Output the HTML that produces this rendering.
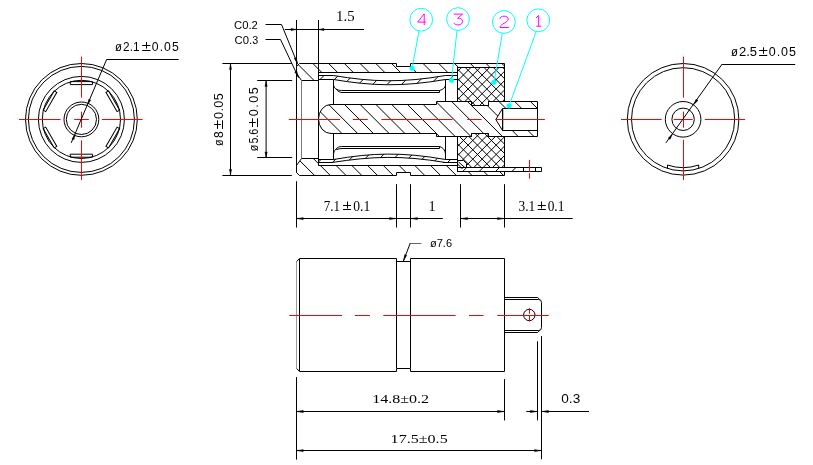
<!DOCTYPE html>
<html><head><meta charset="utf-8"><title>Drawing</title>
<style>html,body{margin:0;padding:0;background:#fff;}body{width:813px;height:465px;overflow:hidden;font-family:"Liberation Sans",sans-serif;}svg{will-change:transform;}svg text{white-space:pre;}</style>
</head><body>
<svg width="813" height="465" viewBox="0 0 813 465" style="display:block">
<circle cx="81.40" cy="119.40" r="55.90" stroke="#000" stroke-width="1" fill="none"/>
<circle cx="81.40" cy="119.40" r="53.00" stroke="#000" stroke-width="1" fill="none"/>
<circle cx="81.40" cy="119.40" r="43.00" stroke="#000" stroke-width="1" fill="none"/>
<circle cx="81.40" cy="119.40" r="39.10" stroke="#000" stroke-width="1" fill="none"/>
<circle cx="81.40" cy="119.40" r="17.40" stroke="#000" stroke-width="1" fill="none"/>
<circle cx="81.40" cy="119.40" r="15.10" stroke="#000" stroke-width="1" fill="none"/>
<path d="M70.30,81.60 L70.30,84.60 L92.50,84.60 L92.50,81.60 Z" fill="none" stroke="#000" stroke-width="1" transform="rotate(0 81.4 119.4)"/>
<path d="M70.30,81.60 L70.30,84.60 L92.50,84.60 L92.50,81.60 Z" fill="none" stroke="#000" stroke-width="1" transform="rotate(60 81.4 119.4)"/>
<path d="M70.30,81.60 L70.30,84.60 L92.50,84.60 L92.50,81.60 Z" fill="none" stroke="#000" stroke-width="1" transform="rotate(120 81.4 119.4)"/>
<path d="M70.30,81.60 L70.30,84.60 L92.50,84.60 L92.50,81.60 Z" fill="none" stroke="#000" stroke-width="1" transform="rotate(180 81.4 119.4)"/>
<path d="M70.30,81.60 L70.30,84.60 L92.50,84.60 L92.50,81.60 Z" fill="none" stroke="#000" stroke-width="1" transform="rotate(240 81.4 119.4)"/>
<path d="M70.30,81.60 L70.30,84.60 L92.50,84.60 L92.50,81.60 Z" fill="none" stroke="#000" stroke-width="1" transform="rotate(300 81.4 119.4)"/>
<line x1="19.00" y1="119.50" x2="60.60" y2="119.50" stroke="#ff0000" stroke-width="1" />
<line x1="74.20" y1="119.50" x2="88.90" y2="119.50" stroke="#ff0000" stroke-width="1" />
<line x1="101.90" y1="119.50" x2="142.50" y2="119.50" stroke="#ff0000" stroke-width="1" />
<line x1="81.50" y1="56.60" x2="81.50" y2="97.60" stroke="#ff0000" stroke-width="1" />
<line x1="81.50" y1="111.70" x2="81.50" y2="127.70" stroke="#ff0000" stroke-width="1" />
<line x1="81.50" y1="140.40" x2="81.50" y2="180.10" stroke="#ff0000" stroke-width="1" />
<line x1="106.70" y1="59.50" x2="178.70" y2="59.50" stroke="#000" stroke-width="1" />
<line x1="106.70" y1="59.30" x2="71.20" y2="142.90" stroke="#000" stroke-width="1" />
<path d="M87.64,104.67 L88.68,99.14 L90.89,100.07 Z" fill="#000" stroke="#000" stroke-width="0.3"/>
<path d="M75.16,134.13 L74.12,139.66 L71.91,138.73 Z" fill="#000" stroke="#000" stroke-width="0.3"/>
<text x="115.00" y="50.60" font-family="'Liberation Sans', sans-serif" font-size="12" font-weight="normal" fill="#000" text-anchor="start" textLength="6.90" lengthAdjust="spacingAndGlyphs">ø</text>
<text x="123.10" y="50.60" font-family="'Liberation Sans', sans-serif" font-size="12.2" font-weight="normal" fill="#000" text-anchor="start" textLength="16.40" lengthAdjust="spacingAndGlyphs">2.1</text>
<line x1="142.20" y1="45.50" x2="150.40" y2="45.50" stroke="#000" stroke-width="1.0" />
<line x1="146.50" y1="41.90" x2="146.50" y2="48.60" stroke="#000" stroke-width="1.0" />
<line x1="142.20" y1="50.50" x2="150.40" y2="50.50" stroke="#000" stroke-width="1.0" />
<text x="151.80" y="50.60" font-family="'Liberation Sans', sans-serif" font-size="12.2" font-weight="normal" fill="#000" text-anchor="start" textLength="26.90" lengthAdjust="spacing">0.05</text>
<circle cx="683.10" cy="119.30" r="55.80" stroke="#000" stroke-width="1" fill="none"/>
<circle cx="683.10" cy="119.30" r="51.60" stroke="#000" stroke-width="1" fill="none"/>
<circle cx="683.10" cy="119.30" r="17.80" stroke="#000" stroke-width="1" fill="none"/>
<circle cx="683.10" cy="119.30" r="11.20" stroke="#000" stroke-width="1" fill="none"/>
<path d="M667.50,168.49 L667.50,165.01 A48.3,48.3 0 0 0 698.70,165.01 L698.70,168.49" stroke="#000" stroke-width="1" fill="none" />
<line x1="621.00" y1="119.50" x2="661.70" y2="119.50" stroke="#ff0000" stroke-width="1" />
<line x1="673.70" y1="119.50" x2="692.70" y2="119.50" stroke="#ff0000" stroke-width="1" />
<line x1="704.80" y1="119.50" x2="745.10" y2="119.50" stroke="#ff0000" stroke-width="1" />
<line x1="683.50" y1="56.60" x2="683.50" y2="97.60" stroke="#ff0000" stroke-width="1" />
<line x1="683.50" y1="111.70" x2="683.50" y2="127.70" stroke="#ff0000" stroke-width="1" />
<line x1="683.50" y1="139.80" x2="683.50" y2="180.10" stroke="#ff0000" stroke-width="1" />
<line x1="722.20" y1="64.50" x2="795.20" y2="64.50" stroke="#000" stroke-width="1" />
<line x1="722.20" y1="64.00" x2="665.90" y2="142.90" stroke="#000" stroke-width="1" />
<path d="M693.61,104.68 L696.13,99.11 L698.08,100.51 Z" fill="#000" stroke="#000" stroke-width="0.3"/>
<path d="M672.59,133.92 L670.07,139.49 L668.12,138.09 Z" fill="#000" stroke="#000" stroke-width="0.3"/>
<text x="730.90" y="55.70" font-family="'Liberation Sans', sans-serif" font-size="12" font-weight="normal" fill="#000" text-anchor="start" textLength="6.90" lengthAdjust="spacingAndGlyphs">ø</text>
<text x="738.90" y="55.70" font-family="'Liberation Sans', sans-serif" font-size="12.5" font-weight="normal" fill="#000" text-anchor="start" textLength="18.10" lengthAdjust="spacingAndGlyphs">2.5</text>
<line x1="759.10" y1="50.50" x2="767.30" y2="50.50" stroke="#000" stroke-width="1.0" />
<line x1="763.50" y1="47.30" x2="763.50" y2="53.80" stroke="#000" stroke-width="1.0" />
<line x1="759.10" y1="55.50" x2="767.30" y2="55.50" stroke="#000" stroke-width="1.0" />
<text x="768.80" y="55.70" font-family="'Liberation Sans', sans-serif" font-size="12.5" font-weight="normal" fill="#000" text-anchor="start" textLength="27.10" lengthAdjust="spacing">0.05</text>
<defs><clipPath id="cst"><path d="M296.50,66.50 L299.50,63.50 L396.50,63.50 L396.50,66.50 L410.50,66.50 L410.50,63.50 L504.50,63.50 L504.50,67.50 L457.50,67.50 L457.50,72.50 L318.50,72.50 L318.50,80.50 L301.50,80.50 L296.50,73.50 Z"/></clipPath><clipPath id="csb"><path d="M296.50,172.50 L299.50,175.50 L396.50,175.50 L396.50,172.50 L410.50,172.50 L410.50,175.50 L504.50,175.50 L504.50,171.50 L457.50,171.50 L457.50,165.50 L318.50,165.50 L318.50,158.50 L301.50,158.50 L296.50,165.50 Z"/></clipPath><clipPath id="cpin"><path clip-rule="evenodd" d="M331.0,104.5 L436.5,104.5 L436.5,101.5 L471.5,101.5 L471.5,105.5 L488.5,105.5 L488.5,101.5 L537.5,101.5 L537.5,136.5 L488.5,136.5 L488.5,133.5 L471.5,133.5 L471.5,136.5 L436.5,136.5 L436.5,133.5 L331.0,133.5 A12.5,14.50 0 0 1 331.0,104.5 Z M537.5,108.5 L502.5,108.5 L495.8,119.5 L502.5,130.5 L537.5,130.5 Z"/></clipPath><clipPath id="cxt"><path d="M457.50,67.50 L504.50,67.50 L504.50,101.50 L488.50,101.50 L488.50,105.50 L471.50,105.50 L471.50,101.50 L457.50,101.50 Z"/></clipPath><clipPath id="cxb"><path d="M457.50,136.50 L471.50,136.50 L471.50,133.50 L488.50,133.50 L488.50,136.50 L504.50,136.50 L504.50,167.50 L466.50,167.50 L466.50,163.50 L463.50,160.50 L457.50,160.50 Z"/></clipPath><clipPath id="cspt"><path d="M318.5,75.5 L333.5,75.5 C372,82 402,83 445.5,75.5 L457.5,75.5 L457.5,79.5 L445.5,79.5 C402,87 372,86 333.5,79.5 L318.5,79.5 Z"/></clipPath><clipPath id="cspb"><path d="M318.5,162.5 L332.0,162.5 C372,156.2 402,155.2 445.5,162.5 L457.5,162.5 L457.5,159.5 L445.5,159.5 C402,151.8 372,152.8 333.5,159.5 L318.5,159.5 Z"/></clipPath><clipPath id="clug"><path d="M457.50,167.50 L523.50,167.50 L523.50,171.50 L457.50,171.50 Z"/></clipPath></defs>
<g clip-path="url(#cst)">
<line x1="115.35" y1="55.00" x2="245.35" y2="185.00" stroke="#000" stroke-width="1" />
<line x1="131.10" y1="55.00" x2="261.10" y2="185.00" stroke="#000" stroke-width="1" />
<line x1="146.85" y1="55.00" x2="276.85" y2="185.00" stroke="#000" stroke-width="1" />
<line x1="162.60" y1="55.00" x2="292.60" y2="185.00" stroke="#000" stroke-width="1" />
<line x1="178.35" y1="55.00" x2="308.35" y2="185.00" stroke="#000" stroke-width="1" />
<line x1="194.10" y1="55.00" x2="324.10" y2="185.00" stroke="#000" stroke-width="1" />
<line x1="209.85" y1="55.00" x2="339.85" y2="185.00" stroke="#000" stroke-width="1" />
<line x1="225.60" y1="55.00" x2="355.60" y2="185.00" stroke="#000" stroke-width="1" />
<line x1="241.35" y1="55.00" x2="371.35" y2="185.00" stroke="#000" stroke-width="1" />
<line x1="257.10" y1="55.00" x2="387.10" y2="185.00" stroke="#000" stroke-width="1" />
<line x1="272.85" y1="55.00" x2="402.85" y2="185.00" stroke="#000" stroke-width="1" />
<line x1="288.60" y1="55.00" x2="418.60" y2="185.00" stroke="#000" stroke-width="1" />
<line x1="304.35" y1="55.00" x2="434.35" y2="185.00" stroke="#000" stroke-width="1" />
<line x1="320.10" y1="55.00" x2="450.10" y2="185.00" stroke="#000" stroke-width="1" />
<line x1="335.85" y1="55.00" x2="465.85" y2="185.00" stroke="#000" stroke-width="1" />
<line x1="351.60" y1="55.00" x2="481.60" y2="185.00" stroke="#000" stroke-width="1" />
<line x1="367.35" y1="55.00" x2="497.35" y2="185.00" stroke="#000" stroke-width="1" />
<line x1="383.10" y1="55.00" x2="513.10" y2="185.00" stroke="#000" stroke-width="1" />
<line x1="398.85" y1="55.00" x2="528.85" y2="185.00" stroke="#000" stroke-width="1" />
<line x1="414.60" y1="55.00" x2="544.60" y2="185.00" stroke="#000" stroke-width="1" />
<line x1="430.35" y1="55.00" x2="560.35" y2="185.00" stroke="#000" stroke-width="1" />
<line x1="446.10" y1="55.00" x2="576.10" y2="185.00" stroke="#000" stroke-width="1" />
<line x1="461.85" y1="55.00" x2="591.85" y2="185.00" stroke="#000" stroke-width="1" />
<line x1="477.60" y1="55.00" x2="607.60" y2="185.00" stroke="#000" stroke-width="1" />
<line x1="493.35" y1="55.00" x2="623.35" y2="185.00" stroke="#000" stroke-width="1" />
<line x1="509.10" y1="55.00" x2="639.10" y2="185.00" stroke="#000" stroke-width="1" />
<line x1="524.85" y1="55.00" x2="654.85" y2="185.00" stroke="#000" stroke-width="1" />
<line x1="540.60" y1="55.00" x2="670.60" y2="185.00" stroke="#000" stroke-width="1" />
<line x1="556.35" y1="55.00" x2="686.35" y2="185.00" stroke="#000" stroke-width="1" />
<line x1="572.10" y1="55.00" x2="702.10" y2="185.00" stroke="#000" stroke-width="1" />
<line x1="587.85" y1="55.00" x2="717.85" y2="185.00" stroke="#000" stroke-width="1" />
</g>
<g clip-path="url(#csb)">
<line x1="115.35" y1="55.00" x2="245.35" y2="185.00" stroke="#000" stroke-width="1" />
<line x1="131.10" y1="55.00" x2="261.10" y2="185.00" stroke="#000" stroke-width="1" />
<line x1="146.85" y1="55.00" x2="276.85" y2="185.00" stroke="#000" stroke-width="1" />
<line x1="162.60" y1="55.00" x2="292.60" y2="185.00" stroke="#000" stroke-width="1" />
<line x1="178.35" y1="55.00" x2="308.35" y2="185.00" stroke="#000" stroke-width="1" />
<line x1="194.10" y1="55.00" x2="324.10" y2="185.00" stroke="#000" stroke-width="1" />
<line x1="209.85" y1="55.00" x2="339.85" y2="185.00" stroke="#000" stroke-width="1" />
<line x1="225.60" y1="55.00" x2="355.60" y2="185.00" stroke="#000" stroke-width="1" />
<line x1="241.35" y1="55.00" x2="371.35" y2="185.00" stroke="#000" stroke-width="1" />
<line x1="257.10" y1="55.00" x2="387.10" y2="185.00" stroke="#000" stroke-width="1" />
<line x1="272.85" y1="55.00" x2="402.85" y2="185.00" stroke="#000" stroke-width="1" />
<line x1="288.60" y1="55.00" x2="418.60" y2="185.00" stroke="#000" stroke-width="1" />
<line x1="304.35" y1="55.00" x2="434.35" y2="185.00" stroke="#000" stroke-width="1" />
<line x1="320.10" y1="55.00" x2="450.10" y2="185.00" stroke="#000" stroke-width="1" />
<line x1="335.85" y1="55.00" x2="465.85" y2="185.00" stroke="#000" stroke-width="1" />
<line x1="351.60" y1="55.00" x2="481.60" y2="185.00" stroke="#000" stroke-width="1" />
<line x1="367.35" y1="55.00" x2="497.35" y2="185.00" stroke="#000" stroke-width="1" />
<line x1="383.10" y1="55.00" x2="513.10" y2="185.00" stroke="#000" stroke-width="1" />
<line x1="398.85" y1="55.00" x2="528.85" y2="185.00" stroke="#000" stroke-width="1" />
<line x1="414.60" y1="55.00" x2="544.60" y2="185.00" stroke="#000" stroke-width="1" />
<line x1="430.35" y1="55.00" x2="560.35" y2="185.00" stroke="#000" stroke-width="1" />
<line x1="446.10" y1="55.00" x2="576.10" y2="185.00" stroke="#000" stroke-width="1" />
<line x1="461.85" y1="55.00" x2="591.85" y2="185.00" stroke="#000" stroke-width="1" />
<line x1="477.60" y1="55.00" x2="607.60" y2="185.00" stroke="#000" stroke-width="1" />
<line x1="493.35" y1="55.00" x2="623.35" y2="185.00" stroke="#000" stroke-width="1" />
<line x1="509.10" y1="55.00" x2="639.10" y2="185.00" stroke="#000" stroke-width="1" />
<line x1="524.85" y1="55.00" x2="654.85" y2="185.00" stroke="#000" stroke-width="1" />
<line x1="540.60" y1="55.00" x2="670.60" y2="185.00" stroke="#000" stroke-width="1" />
<line x1="556.35" y1="55.00" x2="686.35" y2="185.00" stroke="#000" stroke-width="1" />
<line x1="572.10" y1="55.00" x2="702.10" y2="185.00" stroke="#000" stroke-width="1" />
<line x1="587.85" y1="55.00" x2="717.85" y2="185.00" stroke="#000" stroke-width="1" />
</g>
<g clip-path="url(#cpin)">
<line x1="105.95" y1="55.00" x2="235.95" y2="185.00" stroke="#000" stroke-width="1" />
<line x1="121.70" y1="55.00" x2="251.70" y2="185.00" stroke="#000" stroke-width="1" />
<line x1="137.45" y1="55.00" x2="267.45" y2="185.00" stroke="#000" stroke-width="1" />
<line x1="153.20" y1="55.00" x2="283.20" y2="185.00" stroke="#000" stroke-width="1" />
<line x1="168.95" y1="55.00" x2="298.95" y2="185.00" stroke="#000" stroke-width="1" />
<line x1="184.70" y1="55.00" x2="314.70" y2="185.00" stroke="#000" stroke-width="1" />
<line x1="200.45" y1="55.00" x2="330.45" y2="185.00" stroke="#000" stroke-width="1" />
<line x1="216.20" y1="55.00" x2="346.20" y2="185.00" stroke="#000" stroke-width="1" />
<line x1="231.95" y1="55.00" x2="361.95" y2="185.00" stroke="#000" stroke-width="1" />
<line x1="247.70" y1="55.00" x2="377.70" y2="185.00" stroke="#000" stroke-width="1" />
<line x1="263.45" y1="55.00" x2="393.45" y2="185.00" stroke="#000" stroke-width="1" />
<line x1="279.20" y1="55.00" x2="409.20" y2="185.00" stroke="#000" stroke-width="1" />
<line x1="294.95" y1="55.00" x2="424.95" y2="185.00" stroke="#000" stroke-width="1" />
<line x1="310.70" y1="55.00" x2="440.70" y2="185.00" stroke="#000" stroke-width="1" />
<line x1="326.45" y1="55.00" x2="456.45" y2="185.00" stroke="#000" stroke-width="1" />
<line x1="342.20" y1="55.00" x2="472.20" y2="185.00" stroke="#000" stroke-width="1" />
<line x1="357.95" y1="55.00" x2="487.95" y2="185.00" stroke="#000" stroke-width="1" />
<line x1="373.70" y1="55.00" x2="503.70" y2="185.00" stroke="#000" stroke-width="1" />
<line x1="389.45" y1="55.00" x2="519.45" y2="185.00" stroke="#000" stroke-width="1" />
<line x1="405.20" y1="55.00" x2="535.20" y2="185.00" stroke="#000" stroke-width="1" />
<line x1="420.95" y1="55.00" x2="550.95" y2="185.00" stroke="#000" stroke-width="1" />
<line x1="436.70" y1="55.00" x2="566.70" y2="185.00" stroke="#000" stroke-width="1" />
<line x1="452.45" y1="55.00" x2="582.45" y2="185.00" stroke="#000" stroke-width="1" />
<line x1="468.20" y1="55.00" x2="598.20" y2="185.00" stroke="#000" stroke-width="1" />
<line x1="483.95" y1="55.00" x2="613.95" y2="185.00" stroke="#000" stroke-width="1" />
<line x1="499.70" y1="55.00" x2="629.70" y2="185.00" stroke="#000" stroke-width="1" />
<line x1="515.45" y1="55.00" x2="645.45" y2="185.00" stroke="#000" stroke-width="1" />
<line x1="531.20" y1="55.00" x2="661.20" y2="185.00" stroke="#000" stroke-width="1" />
<line x1="546.95" y1="55.00" x2="676.95" y2="185.00" stroke="#000" stroke-width="1" />
<line x1="562.70" y1="55.00" x2="692.70" y2="185.00" stroke="#000" stroke-width="1" />
<line x1="578.45" y1="55.00" x2="708.45" y2="185.00" stroke="#000" stroke-width="1" />
<line x1="594.20" y1="55.00" x2="724.20" y2="185.00" stroke="#000" stroke-width="1" />
</g>
<g clip-path="url(#cxt)">
<line x1="116.20" y1="55.00" x2="246.20" y2="185.00" stroke="#000" stroke-width="1" />
<line x1="125.55" y1="55.00" x2="255.55" y2="185.00" stroke="#000" stroke-width="1" />
<line x1="134.90" y1="55.00" x2="264.90" y2="185.00" stroke="#000" stroke-width="1" />
<line x1="144.25" y1="55.00" x2="274.25" y2="185.00" stroke="#000" stroke-width="1" />
<line x1="153.60" y1="55.00" x2="283.60" y2="185.00" stroke="#000" stroke-width="1" />
<line x1="162.95" y1="55.00" x2="292.95" y2="185.00" stroke="#000" stroke-width="1" />
<line x1="172.30" y1="55.00" x2="302.30" y2="185.00" stroke="#000" stroke-width="1" />
<line x1="181.65" y1="55.00" x2="311.65" y2="185.00" stroke="#000" stroke-width="1" />
<line x1="191.00" y1="55.00" x2="321.00" y2="185.00" stroke="#000" stroke-width="1" />
<line x1="200.35" y1="55.00" x2="330.35" y2="185.00" stroke="#000" stroke-width="1" />
<line x1="209.70" y1="55.00" x2="339.70" y2="185.00" stroke="#000" stroke-width="1" />
<line x1="219.05" y1="55.00" x2="349.05" y2="185.00" stroke="#000" stroke-width="1" />
<line x1="228.40" y1="55.00" x2="358.40" y2="185.00" stroke="#000" stroke-width="1" />
<line x1="237.75" y1="55.00" x2="367.75" y2="185.00" stroke="#000" stroke-width="1" />
<line x1="247.10" y1="55.00" x2="377.10" y2="185.00" stroke="#000" stroke-width="1" />
<line x1="256.45" y1="55.00" x2="386.45" y2="185.00" stroke="#000" stroke-width="1" />
<line x1="265.80" y1="55.00" x2="395.80" y2="185.00" stroke="#000" stroke-width="1" />
<line x1="275.15" y1="55.00" x2="405.15" y2="185.00" stroke="#000" stroke-width="1" />
<line x1="284.50" y1="55.00" x2="414.50" y2="185.00" stroke="#000" stroke-width="1" />
<line x1="293.85" y1="55.00" x2="423.85" y2="185.00" stroke="#000" stroke-width="1" />
<line x1="303.20" y1="55.00" x2="433.20" y2="185.00" stroke="#000" stroke-width="1" />
<line x1="312.55" y1="55.00" x2="442.55" y2="185.00" stroke="#000" stroke-width="1" />
<line x1="321.90" y1="55.00" x2="451.90" y2="185.00" stroke="#000" stroke-width="1" />
<line x1="331.25" y1="55.00" x2="461.25" y2="185.00" stroke="#000" stroke-width="1" />
<line x1="340.60" y1="55.00" x2="470.60" y2="185.00" stroke="#000" stroke-width="1" />
<line x1="349.95" y1="55.00" x2="479.95" y2="185.00" stroke="#000" stroke-width="1" />
<line x1="359.30" y1="55.00" x2="489.30" y2="185.00" stroke="#000" stroke-width="1" />
<line x1="368.65" y1="55.00" x2="498.65" y2="185.00" stroke="#000" stroke-width="1" />
<line x1="378.00" y1="55.00" x2="508.00" y2="185.00" stroke="#000" stroke-width="1" />
<line x1="387.35" y1="55.00" x2="517.35" y2="185.00" stroke="#000" stroke-width="1" />
<line x1="396.70" y1="55.00" x2="526.70" y2="185.00" stroke="#000" stroke-width="1" />
<line x1="406.05" y1="55.00" x2="536.05" y2="185.00" stroke="#000" stroke-width="1" />
<line x1="415.40" y1="55.00" x2="545.40" y2="185.00" stroke="#000" stroke-width="1" />
<line x1="424.75" y1="55.00" x2="554.75" y2="185.00" stroke="#000" stroke-width="1" />
<line x1="434.10" y1="55.00" x2="564.10" y2="185.00" stroke="#000" stroke-width="1" />
<line x1="443.45" y1="55.00" x2="573.45" y2="185.00" stroke="#000" stroke-width="1" />
<line x1="452.80" y1="55.00" x2="582.80" y2="185.00" stroke="#000" stroke-width="1" />
<line x1="462.15" y1="55.00" x2="592.15" y2="185.00" stroke="#000" stroke-width="1" />
<line x1="471.50" y1="55.00" x2="601.50" y2="185.00" stroke="#000" stroke-width="1" />
<line x1="480.85" y1="55.00" x2="610.85" y2="185.00" stroke="#000" stroke-width="1" />
<line x1="490.20" y1="55.00" x2="620.20" y2="185.00" stroke="#000" stroke-width="1" />
<line x1="499.55" y1="55.00" x2="629.55" y2="185.00" stroke="#000" stroke-width="1" />
<line x1="508.90" y1="55.00" x2="638.90" y2="185.00" stroke="#000" stroke-width="1" />
<line x1="518.25" y1="55.00" x2="648.25" y2="185.00" stroke="#000" stroke-width="1" />
<line x1="527.60" y1="55.00" x2="657.60" y2="185.00" stroke="#000" stroke-width="1" />
<line x1="536.95" y1="55.00" x2="666.95" y2="185.00" stroke="#000" stroke-width="1" />
<line x1="546.30" y1="55.00" x2="676.30" y2="185.00" stroke="#000" stroke-width="1" />
<line x1="555.65" y1="55.00" x2="685.65" y2="185.00" stroke="#000" stroke-width="1" />
<line x1="565.00" y1="55.00" x2="695.00" y2="185.00" stroke="#000" stroke-width="1" />
<line x1="574.35" y1="55.00" x2="704.35" y2="185.00" stroke="#000" stroke-width="1" />
<line x1="583.70" y1="55.00" x2="713.70" y2="185.00" stroke="#000" stroke-width="1" />
<line x1="593.05" y1="55.00" x2="723.05" y2="185.00" stroke="#000" stroke-width="1" />
</g>
<g clip-path="url(#cxt)">
<line x1="249.65" y1="55.00" x2="119.65" y2="185.00" stroke="#000" stroke-width="1" />
<line x1="259.00" y1="55.00" x2="129.00" y2="185.00" stroke="#000" stroke-width="1" />
<line x1="268.35" y1="55.00" x2="138.35" y2="185.00" stroke="#000" stroke-width="1" />
<line x1="277.70" y1="55.00" x2="147.70" y2="185.00" stroke="#000" stroke-width="1" />
<line x1="287.05" y1="55.00" x2="157.05" y2="185.00" stroke="#000" stroke-width="1" />
<line x1="296.40" y1="55.00" x2="166.40" y2="185.00" stroke="#000" stroke-width="1" />
<line x1="305.75" y1="55.00" x2="175.75" y2="185.00" stroke="#000" stroke-width="1" />
<line x1="315.10" y1="55.00" x2="185.10" y2="185.00" stroke="#000" stroke-width="1" />
<line x1="324.45" y1="55.00" x2="194.45" y2="185.00" stroke="#000" stroke-width="1" />
<line x1="333.80" y1="55.00" x2="203.80" y2="185.00" stroke="#000" stroke-width="1" />
<line x1="343.15" y1="55.00" x2="213.15" y2="185.00" stroke="#000" stroke-width="1" />
<line x1="352.50" y1="55.00" x2="222.50" y2="185.00" stroke="#000" stroke-width="1" />
<line x1="361.85" y1="55.00" x2="231.85" y2="185.00" stroke="#000" stroke-width="1" />
<line x1="371.20" y1="55.00" x2="241.20" y2="185.00" stroke="#000" stroke-width="1" />
<line x1="380.55" y1="55.00" x2="250.55" y2="185.00" stroke="#000" stroke-width="1" />
<line x1="389.90" y1="55.00" x2="259.90" y2="185.00" stroke="#000" stroke-width="1" />
<line x1="399.25" y1="55.00" x2="269.25" y2="185.00" stroke="#000" stroke-width="1" />
<line x1="408.60" y1="55.00" x2="278.60" y2="185.00" stroke="#000" stroke-width="1" />
<line x1="417.95" y1="55.00" x2="287.95" y2="185.00" stroke="#000" stroke-width="1" />
<line x1="427.30" y1="55.00" x2="297.30" y2="185.00" stroke="#000" stroke-width="1" />
<line x1="436.65" y1="55.00" x2="306.65" y2="185.00" stroke="#000" stroke-width="1" />
<line x1="446.00" y1="55.00" x2="316.00" y2="185.00" stroke="#000" stroke-width="1" />
<line x1="455.35" y1="55.00" x2="325.35" y2="185.00" stroke="#000" stroke-width="1" />
<line x1="464.70" y1="55.00" x2="334.70" y2="185.00" stroke="#000" stroke-width="1" />
<line x1="474.05" y1="55.00" x2="344.05" y2="185.00" stroke="#000" stroke-width="1" />
<line x1="483.40" y1="55.00" x2="353.40" y2="185.00" stroke="#000" stroke-width="1" />
<line x1="492.75" y1="55.00" x2="362.75" y2="185.00" stroke="#000" stroke-width="1" />
<line x1="502.10" y1="55.00" x2="372.10" y2="185.00" stroke="#000" stroke-width="1" />
<line x1="511.45" y1="55.00" x2="381.45" y2="185.00" stroke="#000" stroke-width="1" />
<line x1="520.80" y1="55.00" x2="390.80" y2="185.00" stroke="#000" stroke-width="1" />
<line x1="530.15" y1="55.00" x2="400.15" y2="185.00" stroke="#000" stroke-width="1" />
<line x1="539.50" y1="55.00" x2="409.50" y2="185.00" stroke="#000" stroke-width="1" />
<line x1="548.85" y1="55.00" x2="418.85" y2="185.00" stroke="#000" stroke-width="1" />
<line x1="558.20" y1="55.00" x2="428.20" y2="185.00" stroke="#000" stroke-width="1" />
<line x1="567.55" y1="55.00" x2="437.55" y2="185.00" stroke="#000" stroke-width="1" />
<line x1="576.90" y1="55.00" x2="446.90" y2="185.00" stroke="#000" stroke-width="1" />
<line x1="586.25" y1="55.00" x2="456.25" y2="185.00" stroke="#000" stroke-width="1" />
<line x1="595.60" y1="55.00" x2="465.60" y2="185.00" stroke="#000" stroke-width="1" />
<line x1="604.95" y1="55.00" x2="474.95" y2="185.00" stroke="#000" stroke-width="1" />
<line x1="614.30" y1="55.00" x2="484.30" y2="185.00" stroke="#000" stroke-width="1" />
<line x1="623.65" y1="55.00" x2="493.65" y2="185.00" stroke="#000" stroke-width="1" />
<line x1="633.00" y1="55.00" x2="503.00" y2="185.00" stroke="#000" stroke-width="1" />
<line x1="642.35" y1="55.00" x2="512.35" y2="185.00" stroke="#000" stroke-width="1" />
<line x1="651.70" y1="55.00" x2="521.70" y2="185.00" stroke="#000" stroke-width="1" />
<line x1="661.05" y1="55.00" x2="531.05" y2="185.00" stroke="#000" stroke-width="1" />
<line x1="670.40" y1="55.00" x2="540.40" y2="185.00" stroke="#000" stroke-width="1" />
<line x1="679.75" y1="55.00" x2="549.75" y2="185.00" stroke="#000" stroke-width="1" />
<line x1="689.10" y1="55.00" x2="559.10" y2="185.00" stroke="#000" stroke-width="1" />
<line x1="698.45" y1="55.00" x2="568.45" y2="185.00" stroke="#000" stroke-width="1" />
<line x1="707.80" y1="55.00" x2="577.80" y2="185.00" stroke="#000" stroke-width="1" />
<line x1="717.15" y1="55.00" x2="587.15" y2="185.00" stroke="#000" stroke-width="1" />
<line x1="726.50" y1="55.00" x2="596.50" y2="185.00" stroke="#000" stroke-width="1" />
</g>
<g clip-path="url(#cxb)">
<line x1="116.20" y1="55.00" x2="246.20" y2="185.00" stroke="#000" stroke-width="1" />
<line x1="125.55" y1="55.00" x2="255.55" y2="185.00" stroke="#000" stroke-width="1" />
<line x1="134.90" y1="55.00" x2="264.90" y2="185.00" stroke="#000" stroke-width="1" />
<line x1="144.25" y1="55.00" x2="274.25" y2="185.00" stroke="#000" stroke-width="1" />
<line x1="153.60" y1="55.00" x2="283.60" y2="185.00" stroke="#000" stroke-width="1" />
<line x1="162.95" y1="55.00" x2="292.95" y2="185.00" stroke="#000" stroke-width="1" />
<line x1="172.30" y1="55.00" x2="302.30" y2="185.00" stroke="#000" stroke-width="1" />
<line x1="181.65" y1="55.00" x2="311.65" y2="185.00" stroke="#000" stroke-width="1" />
<line x1="191.00" y1="55.00" x2="321.00" y2="185.00" stroke="#000" stroke-width="1" />
<line x1="200.35" y1="55.00" x2="330.35" y2="185.00" stroke="#000" stroke-width="1" />
<line x1="209.70" y1="55.00" x2="339.70" y2="185.00" stroke="#000" stroke-width="1" />
<line x1="219.05" y1="55.00" x2="349.05" y2="185.00" stroke="#000" stroke-width="1" />
<line x1="228.40" y1="55.00" x2="358.40" y2="185.00" stroke="#000" stroke-width="1" />
<line x1="237.75" y1="55.00" x2="367.75" y2="185.00" stroke="#000" stroke-width="1" />
<line x1="247.10" y1="55.00" x2="377.10" y2="185.00" stroke="#000" stroke-width="1" />
<line x1="256.45" y1="55.00" x2="386.45" y2="185.00" stroke="#000" stroke-width="1" />
<line x1="265.80" y1="55.00" x2="395.80" y2="185.00" stroke="#000" stroke-width="1" />
<line x1="275.15" y1="55.00" x2="405.15" y2="185.00" stroke="#000" stroke-width="1" />
<line x1="284.50" y1="55.00" x2="414.50" y2="185.00" stroke="#000" stroke-width="1" />
<line x1="293.85" y1="55.00" x2="423.85" y2="185.00" stroke="#000" stroke-width="1" />
<line x1="303.20" y1="55.00" x2="433.20" y2="185.00" stroke="#000" stroke-width="1" />
<line x1="312.55" y1="55.00" x2="442.55" y2="185.00" stroke="#000" stroke-width="1" />
<line x1="321.90" y1="55.00" x2="451.90" y2="185.00" stroke="#000" stroke-width="1" />
<line x1="331.25" y1="55.00" x2="461.25" y2="185.00" stroke="#000" stroke-width="1" />
<line x1="340.60" y1="55.00" x2="470.60" y2="185.00" stroke="#000" stroke-width="1" />
<line x1="349.95" y1="55.00" x2="479.95" y2="185.00" stroke="#000" stroke-width="1" />
<line x1="359.30" y1="55.00" x2="489.30" y2="185.00" stroke="#000" stroke-width="1" />
<line x1="368.65" y1="55.00" x2="498.65" y2="185.00" stroke="#000" stroke-width="1" />
<line x1="378.00" y1="55.00" x2="508.00" y2="185.00" stroke="#000" stroke-width="1" />
<line x1="387.35" y1="55.00" x2="517.35" y2="185.00" stroke="#000" stroke-width="1" />
<line x1="396.70" y1="55.00" x2="526.70" y2="185.00" stroke="#000" stroke-width="1" />
<line x1="406.05" y1="55.00" x2="536.05" y2="185.00" stroke="#000" stroke-width="1" />
<line x1="415.40" y1="55.00" x2="545.40" y2="185.00" stroke="#000" stroke-width="1" />
<line x1="424.75" y1="55.00" x2="554.75" y2="185.00" stroke="#000" stroke-width="1" />
<line x1="434.10" y1="55.00" x2="564.10" y2="185.00" stroke="#000" stroke-width="1" />
<line x1="443.45" y1="55.00" x2="573.45" y2="185.00" stroke="#000" stroke-width="1" />
<line x1="452.80" y1="55.00" x2="582.80" y2="185.00" stroke="#000" stroke-width="1" />
<line x1="462.15" y1="55.00" x2="592.15" y2="185.00" stroke="#000" stroke-width="1" />
<line x1="471.50" y1="55.00" x2="601.50" y2="185.00" stroke="#000" stroke-width="1" />
<line x1="480.85" y1="55.00" x2="610.85" y2="185.00" stroke="#000" stroke-width="1" />
<line x1="490.20" y1="55.00" x2="620.20" y2="185.00" stroke="#000" stroke-width="1" />
<line x1="499.55" y1="55.00" x2="629.55" y2="185.00" stroke="#000" stroke-width="1" />
<line x1="508.90" y1="55.00" x2="638.90" y2="185.00" stroke="#000" stroke-width="1" />
<line x1="518.25" y1="55.00" x2="648.25" y2="185.00" stroke="#000" stroke-width="1" />
<line x1="527.60" y1="55.00" x2="657.60" y2="185.00" stroke="#000" stroke-width="1" />
<line x1="536.95" y1="55.00" x2="666.95" y2="185.00" stroke="#000" stroke-width="1" />
<line x1="546.30" y1="55.00" x2="676.30" y2="185.00" stroke="#000" stroke-width="1" />
<line x1="555.65" y1="55.00" x2="685.65" y2="185.00" stroke="#000" stroke-width="1" />
<line x1="565.00" y1="55.00" x2="695.00" y2="185.00" stroke="#000" stroke-width="1" />
<line x1="574.35" y1="55.00" x2="704.35" y2="185.00" stroke="#000" stroke-width="1" />
<line x1="583.70" y1="55.00" x2="713.70" y2="185.00" stroke="#000" stroke-width="1" />
<line x1="593.05" y1="55.00" x2="723.05" y2="185.00" stroke="#000" stroke-width="1" />
</g>
<g clip-path="url(#cxb)">
<line x1="249.65" y1="55.00" x2="119.65" y2="185.00" stroke="#000" stroke-width="1" />
<line x1="259.00" y1="55.00" x2="129.00" y2="185.00" stroke="#000" stroke-width="1" />
<line x1="268.35" y1="55.00" x2="138.35" y2="185.00" stroke="#000" stroke-width="1" />
<line x1="277.70" y1="55.00" x2="147.70" y2="185.00" stroke="#000" stroke-width="1" />
<line x1="287.05" y1="55.00" x2="157.05" y2="185.00" stroke="#000" stroke-width="1" />
<line x1="296.40" y1="55.00" x2="166.40" y2="185.00" stroke="#000" stroke-width="1" />
<line x1="305.75" y1="55.00" x2="175.75" y2="185.00" stroke="#000" stroke-width="1" />
<line x1="315.10" y1="55.00" x2="185.10" y2="185.00" stroke="#000" stroke-width="1" />
<line x1="324.45" y1="55.00" x2="194.45" y2="185.00" stroke="#000" stroke-width="1" />
<line x1="333.80" y1="55.00" x2="203.80" y2="185.00" stroke="#000" stroke-width="1" />
<line x1="343.15" y1="55.00" x2="213.15" y2="185.00" stroke="#000" stroke-width="1" />
<line x1="352.50" y1="55.00" x2="222.50" y2="185.00" stroke="#000" stroke-width="1" />
<line x1="361.85" y1="55.00" x2="231.85" y2="185.00" stroke="#000" stroke-width="1" />
<line x1="371.20" y1="55.00" x2="241.20" y2="185.00" stroke="#000" stroke-width="1" />
<line x1="380.55" y1="55.00" x2="250.55" y2="185.00" stroke="#000" stroke-width="1" />
<line x1="389.90" y1="55.00" x2="259.90" y2="185.00" stroke="#000" stroke-width="1" />
<line x1="399.25" y1="55.00" x2="269.25" y2="185.00" stroke="#000" stroke-width="1" />
<line x1="408.60" y1="55.00" x2="278.60" y2="185.00" stroke="#000" stroke-width="1" />
<line x1="417.95" y1="55.00" x2="287.95" y2="185.00" stroke="#000" stroke-width="1" />
<line x1="427.30" y1="55.00" x2="297.30" y2="185.00" stroke="#000" stroke-width="1" />
<line x1="436.65" y1="55.00" x2="306.65" y2="185.00" stroke="#000" stroke-width="1" />
<line x1="446.00" y1="55.00" x2="316.00" y2="185.00" stroke="#000" stroke-width="1" />
<line x1="455.35" y1="55.00" x2="325.35" y2="185.00" stroke="#000" stroke-width="1" />
<line x1="464.70" y1="55.00" x2="334.70" y2="185.00" stroke="#000" stroke-width="1" />
<line x1="474.05" y1="55.00" x2="344.05" y2="185.00" stroke="#000" stroke-width="1" />
<line x1="483.40" y1="55.00" x2="353.40" y2="185.00" stroke="#000" stroke-width="1" />
<line x1="492.75" y1="55.00" x2="362.75" y2="185.00" stroke="#000" stroke-width="1" />
<line x1="502.10" y1="55.00" x2="372.10" y2="185.00" stroke="#000" stroke-width="1" />
<line x1="511.45" y1="55.00" x2="381.45" y2="185.00" stroke="#000" stroke-width="1" />
<line x1="520.80" y1="55.00" x2="390.80" y2="185.00" stroke="#000" stroke-width="1" />
<line x1="530.15" y1="55.00" x2="400.15" y2="185.00" stroke="#000" stroke-width="1" />
<line x1="539.50" y1="55.00" x2="409.50" y2="185.00" stroke="#000" stroke-width="1" />
<line x1="548.85" y1="55.00" x2="418.85" y2="185.00" stroke="#000" stroke-width="1" />
<line x1="558.20" y1="55.00" x2="428.20" y2="185.00" stroke="#000" stroke-width="1" />
<line x1="567.55" y1="55.00" x2="437.55" y2="185.00" stroke="#000" stroke-width="1" />
<line x1="576.90" y1="55.00" x2="446.90" y2="185.00" stroke="#000" stroke-width="1" />
<line x1="586.25" y1="55.00" x2="456.25" y2="185.00" stroke="#000" stroke-width="1" />
<line x1="595.60" y1="55.00" x2="465.60" y2="185.00" stroke="#000" stroke-width="1" />
<line x1="604.95" y1="55.00" x2="474.95" y2="185.00" stroke="#000" stroke-width="1" />
<line x1="614.30" y1="55.00" x2="484.30" y2="185.00" stroke="#000" stroke-width="1" />
<line x1="623.65" y1="55.00" x2="493.65" y2="185.00" stroke="#000" stroke-width="1" />
<line x1="633.00" y1="55.00" x2="503.00" y2="185.00" stroke="#000" stroke-width="1" />
<line x1="642.35" y1="55.00" x2="512.35" y2="185.00" stroke="#000" stroke-width="1" />
<line x1="651.70" y1="55.00" x2="521.70" y2="185.00" stroke="#000" stroke-width="1" />
<line x1="661.05" y1="55.00" x2="531.05" y2="185.00" stroke="#000" stroke-width="1" />
<line x1="670.40" y1="55.00" x2="540.40" y2="185.00" stroke="#000" stroke-width="1" />
<line x1="679.75" y1="55.00" x2="549.75" y2="185.00" stroke="#000" stroke-width="1" />
<line x1="689.10" y1="55.00" x2="559.10" y2="185.00" stroke="#000" stroke-width="1" />
<line x1="698.45" y1="55.00" x2="568.45" y2="185.00" stroke="#000" stroke-width="1" />
<line x1="707.80" y1="55.00" x2="577.80" y2="185.00" stroke="#000" stroke-width="1" />
<line x1="717.15" y1="55.00" x2="587.15" y2="185.00" stroke="#000" stroke-width="1" />
<line x1="726.50" y1="55.00" x2="596.50" y2="185.00" stroke="#000" stroke-width="1" />
</g>
<g clip-path="url(#cspt)">
<line x1="243.70" y1="55.00" x2="113.70" y2="185.00" stroke="#000" stroke-width="1" />
<line x1="258.10" y1="55.00" x2="128.10" y2="185.00" stroke="#000" stroke-width="1" />
<line x1="272.50" y1="55.00" x2="142.50" y2="185.00" stroke="#000" stroke-width="1" />
<line x1="286.90" y1="55.00" x2="156.90" y2="185.00" stroke="#000" stroke-width="1" />
<line x1="301.30" y1="55.00" x2="171.30" y2="185.00" stroke="#000" stroke-width="1" />
<line x1="315.70" y1="55.00" x2="185.70" y2="185.00" stroke="#000" stroke-width="1" />
<line x1="330.10" y1="55.00" x2="200.10" y2="185.00" stroke="#000" stroke-width="1" />
<line x1="344.50" y1="55.00" x2="214.50" y2="185.00" stroke="#000" stroke-width="1" />
<line x1="358.90" y1="55.00" x2="228.90" y2="185.00" stroke="#000" stroke-width="1" />
<line x1="373.30" y1="55.00" x2="243.30" y2="185.00" stroke="#000" stroke-width="1" />
<line x1="387.70" y1="55.00" x2="257.70" y2="185.00" stroke="#000" stroke-width="1" />
<line x1="402.10" y1="55.00" x2="272.10" y2="185.00" stroke="#000" stroke-width="1" />
<line x1="416.50" y1="55.00" x2="286.50" y2="185.00" stroke="#000" stroke-width="1" />
<line x1="430.90" y1="55.00" x2="300.90" y2="185.00" stroke="#000" stroke-width="1" />
<line x1="445.30" y1="55.00" x2="315.30" y2="185.00" stroke="#000" stroke-width="1" />
<line x1="459.70" y1="55.00" x2="329.70" y2="185.00" stroke="#000" stroke-width="1" />
<line x1="474.10" y1="55.00" x2="344.10" y2="185.00" stroke="#000" stroke-width="1" />
<line x1="488.50" y1="55.00" x2="358.50" y2="185.00" stroke="#000" stroke-width="1" />
<line x1="502.90" y1="55.00" x2="372.90" y2="185.00" stroke="#000" stroke-width="1" />
<line x1="517.30" y1="55.00" x2="387.30" y2="185.00" stroke="#000" stroke-width="1" />
<line x1="531.70" y1="55.00" x2="401.70" y2="185.00" stroke="#000" stroke-width="1" />
<line x1="546.10" y1="55.00" x2="416.10" y2="185.00" stroke="#000" stroke-width="1" />
<line x1="560.50" y1="55.00" x2="430.50" y2="185.00" stroke="#000" stroke-width="1" />
<line x1="574.90" y1="55.00" x2="444.90" y2="185.00" stroke="#000" stroke-width="1" />
<line x1="589.30" y1="55.00" x2="459.30" y2="185.00" stroke="#000" stroke-width="1" />
<line x1="603.70" y1="55.00" x2="473.70" y2="185.00" stroke="#000" stroke-width="1" />
<line x1="618.10" y1="55.00" x2="488.10" y2="185.00" stroke="#000" stroke-width="1" />
<line x1="632.50" y1="55.00" x2="502.50" y2="185.00" stroke="#000" stroke-width="1" />
<line x1="646.90" y1="55.00" x2="516.90" y2="185.00" stroke="#000" stroke-width="1" />
<line x1="661.30" y1="55.00" x2="531.30" y2="185.00" stroke="#000" stroke-width="1" />
<line x1="675.70" y1="55.00" x2="545.70" y2="185.00" stroke="#000" stroke-width="1" />
<line x1="690.10" y1="55.00" x2="560.10" y2="185.00" stroke="#000" stroke-width="1" />
<line x1="704.50" y1="55.00" x2="574.50" y2="185.00" stroke="#000" stroke-width="1" />
<line x1="718.90" y1="55.00" x2="588.90" y2="185.00" stroke="#000" stroke-width="1" />
</g>
<g clip-path="url(#cspb)">
<line x1="238.30" y1="55.00" x2="108.30" y2="185.00" stroke="#000" stroke-width="1" />
<line x1="252.70" y1="55.00" x2="122.70" y2="185.00" stroke="#000" stroke-width="1" />
<line x1="267.10" y1="55.00" x2="137.10" y2="185.00" stroke="#000" stroke-width="1" />
<line x1="281.50" y1="55.00" x2="151.50" y2="185.00" stroke="#000" stroke-width="1" />
<line x1="295.90" y1="55.00" x2="165.90" y2="185.00" stroke="#000" stroke-width="1" />
<line x1="310.30" y1="55.00" x2="180.30" y2="185.00" stroke="#000" stroke-width="1" />
<line x1="324.70" y1="55.00" x2="194.70" y2="185.00" stroke="#000" stroke-width="1" />
<line x1="339.10" y1="55.00" x2="209.10" y2="185.00" stroke="#000" stroke-width="1" />
<line x1="353.50" y1="55.00" x2="223.50" y2="185.00" stroke="#000" stroke-width="1" />
<line x1="367.90" y1="55.00" x2="237.90" y2="185.00" stroke="#000" stroke-width="1" />
<line x1="382.30" y1="55.00" x2="252.30" y2="185.00" stroke="#000" stroke-width="1" />
<line x1="396.70" y1="55.00" x2="266.70" y2="185.00" stroke="#000" stroke-width="1" />
<line x1="411.10" y1="55.00" x2="281.10" y2="185.00" stroke="#000" stroke-width="1" />
<line x1="425.50" y1="55.00" x2="295.50" y2="185.00" stroke="#000" stroke-width="1" />
<line x1="439.90" y1="55.00" x2="309.90" y2="185.00" stroke="#000" stroke-width="1" />
<line x1="454.30" y1="55.00" x2="324.30" y2="185.00" stroke="#000" stroke-width="1" />
<line x1="468.70" y1="55.00" x2="338.70" y2="185.00" stroke="#000" stroke-width="1" />
<line x1="483.10" y1="55.00" x2="353.10" y2="185.00" stroke="#000" stroke-width="1" />
<line x1="497.50" y1="55.00" x2="367.50" y2="185.00" stroke="#000" stroke-width="1" />
<line x1="511.90" y1="55.00" x2="381.90" y2="185.00" stroke="#000" stroke-width="1" />
<line x1="526.30" y1="55.00" x2="396.30" y2="185.00" stroke="#000" stroke-width="1" />
<line x1="540.70" y1="55.00" x2="410.70" y2="185.00" stroke="#000" stroke-width="1" />
<line x1="555.10" y1="55.00" x2="425.10" y2="185.00" stroke="#000" stroke-width="1" />
<line x1="569.50" y1="55.00" x2="439.50" y2="185.00" stroke="#000" stroke-width="1" />
<line x1="583.90" y1="55.00" x2="453.90" y2="185.00" stroke="#000" stroke-width="1" />
<line x1="598.30" y1="55.00" x2="468.30" y2="185.00" stroke="#000" stroke-width="1" />
<line x1="612.70" y1="55.00" x2="482.70" y2="185.00" stroke="#000" stroke-width="1" />
<line x1="627.10" y1="55.00" x2="497.10" y2="185.00" stroke="#000" stroke-width="1" />
<line x1="641.50" y1="55.00" x2="511.50" y2="185.00" stroke="#000" stroke-width="1" />
<line x1="655.90" y1="55.00" x2="525.90" y2="185.00" stroke="#000" stroke-width="1" />
<line x1="670.30" y1="55.00" x2="540.30" y2="185.00" stroke="#000" stroke-width="1" />
<line x1="684.70" y1="55.00" x2="554.70" y2="185.00" stroke="#000" stroke-width="1" />
<line x1="699.10" y1="55.00" x2="569.10" y2="185.00" stroke="#000" stroke-width="1" />
<line x1="713.50" y1="55.00" x2="583.50" y2="185.00" stroke="#000" stroke-width="1" />
<line x1="727.90" y1="55.00" x2="597.90" y2="185.00" stroke="#000" stroke-width="1" />
</g>
<g clip-path="url(#clug)">
<line x1="234.80" y1="55.00" x2="104.80" y2="185.00" stroke="#000" stroke-width="1" />
<line x1="251.20" y1="55.00" x2="121.20" y2="185.00" stroke="#000" stroke-width="1" />
<line x1="267.60" y1="55.00" x2="137.60" y2="185.00" stroke="#000" stroke-width="1" />
<line x1="284.00" y1="55.00" x2="154.00" y2="185.00" stroke="#000" stroke-width="1" />
<line x1="300.40" y1="55.00" x2="170.40" y2="185.00" stroke="#000" stroke-width="1" />
<line x1="316.80" y1="55.00" x2="186.80" y2="185.00" stroke="#000" stroke-width="1" />
<line x1="333.20" y1="55.00" x2="203.20" y2="185.00" stroke="#000" stroke-width="1" />
<line x1="349.60" y1="55.00" x2="219.60" y2="185.00" stroke="#000" stroke-width="1" />
<line x1="366.00" y1="55.00" x2="236.00" y2="185.00" stroke="#000" stroke-width="1" />
<line x1="382.40" y1="55.00" x2="252.40" y2="185.00" stroke="#000" stroke-width="1" />
<line x1="398.80" y1="55.00" x2="268.80" y2="185.00" stroke="#000" stroke-width="1" />
<line x1="415.20" y1="55.00" x2="285.20" y2="185.00" stroke="#000" stroke-width="1" />
<line x1="431.60" y1="55.00" x2="301.60" y2="185.00" stroke="#000" stroke-width="1" />
<line x1="448.00" y1="55.00" x2="318.00" y2="185.00" stroke="#000" stroke-width="1" />
<line x1="464.40" y1="55.00" x2="334.40" y2="185.00" stroke="#000" stroke-width="1" />
<line x1="480.80" y1="55.00" x2="350.80" y2="185.00" stroke="#000" stroke-width="1" />
<line x1="497.20" y1="55.00" x2="367.20" y2="185.00" stroke="#000" stroke-width="1" />
<line x1="513.60" y1="55.00" x2="383.60" y2="185.00" stroke="#000" stroke-width="1" />
<line x1="530.00" y1="55.00" x2="400.00" y2="185.00" stroke="#000" stroke-width="1" />
<line x1="546.40" y1="55.00" x2="416.40" y2="185.00" stroke="#000" stroke-width="1" />
<line x1="562.80" y1="55.00" x2="432.80" y2="185.00" stroke="#000" stroke-width="1" />
<line x1="579.20" y1="55.00" x2="449.20" y2="185.00" stroke="#000" stroke-width="1" />
<line x1="595.60" y1="55.00" x2="465.60" y2="185.00" stroke="#000" stroke-width="1" />
<line x1="612.00" y1="55.00" x2="482.00" y2="185.00" stroke="#000" stroke-width="1" />
<line x1="628.40" y1="55.00" x2="498.40" y2="185.00" stroke="#000" stroke-width="1" />
<line x1="644.80" y1="55.00" x2="514.80" y2="185.00" stroke="#000" stroke-width="1" />
<line x1="661.20" y1="55.00" x2="531.20" y2="185.00" stroke="#000" stroke-width="1" />
<line x1="677.60" y1="55.00" x2="547.60" y2="185.00" stroke="#000" stroke-width="1" />
<line x1="694.00" y1="55.00" x2="564.00" y2="185.00" stroke="#000" stroke-width="1" />
<line x1="710.40" y1="55.00" x2="580.40" y2="185.00" stroke="#000" stroke-width="1" />
<line x1="726.80" y1="55.00" x2="596.80" y2="185.00" stroke="#000" stroke-width="1" />
</g>
<path d="M296.50,66.50 L299.50,63.50 L396.50,63.50 L396.50,66.50 L410.50,66.50 L410.50,63.50 L504.50,63.50 L504.50,67.50 L457.50,67.50 L457.50,72.50 L318.50,72.50 L318.50,80.50 L301.50,80.50 L296.50,73.50 Z" stroke="#000" stroke-width="1" fill="none" />
<path d="M296.50,172.50 L299.50,175.50 L396.50,175.50 L396.50,172.50 L410.50,172.50 L410.50,175.50 L504.50,175.50 L504.50,171.50 L457.50,171.50 L457.50,165.50 L318.50,165.50 L318.50,158.50 L301.50,158.50 L296.50,165.50 Z" stroke="#000" stroke-width="1" fill="none" />
<line x1="296.50" y1="66.50" x2="296.50" y2="172.50" stroke="#000" stroke-width="1" />
<line x1="301.50" y1="80.50" x2="301.50" y2="158.50" stroke="#777" stroke-width="1" />
<line x1="318.50" y1="20.00" x2="318.50" y2="165.50" stroke="#000" stroke-width="1" />
<path d="M331.0,104.5 L436.5,104.5 L436.5,101.5 L471.5,101.5 L471.5,105.5 L488.5,105.5 L488.5,101.5 L537.5,101.5 L537.5,136.5 L488.5,136.5 L488.5,133.5 L471.5,133.5 L471.5,136.5 L436.5,136.5 L436.5,133.5 L331.0,133.5 A12.5,14.50 0 0 1 331.0,104.5 Z" stroke="#000" stroke-width="1" fill="none" />
<path d="M537.5,108.5 L502.5,108.5 L495.8,119.5 L502.5,130.5 L537.5,130.5" stroke="#000" stroke-width="1" fill="none" />
<line x1="502.50" y1="108.50" x2="502.50" y2="130.50" stroke="#000" stroke-width="1" />
<line x1="503.50" y1="109.50" x2="503.50" y2="129.50" stroke="#bbb" stroke-width="1" />
<path d="M457.50,67.50 L504.50,67.50 L504.50,101.50 L488.50,101.50 L488.50,105.50 L471.50,105.50 L471.50,101.50 L457.50,101.50 Z" stroke="#000" stroke-width="1" fill="none" />
<path d="M457.50,136.50 L471.50,136.50 L471.50,133.50 L488.50,133.50 L488.50,136.50 L504.50,136.50 L504.50,167.50 L466.50,167.50 L466.50,163.50 L463.50,160.50 L457.50,160.50 Z" stroke="#000" stroke-width="1" fill="none" />
<path d="M318.5,75.5 L333.5,75.5 C372,82 402,83 445.5,75.5 L457.5,75.5 L457.5,79.5 L445.5,79.5 C402,87 372,86 333.5,79.5 L318.5,79.5 Z" stroke="#000" stroke-width="1" fill="none" />
<path d="M318.5,162.5 L332.0,162.5 C372,156.2 402,155.2 445.5,162.5 L457.5,162.5 L457.5,159.5 L445.5,159.5 C402,151.8 372,152.8 333.5,159.5 L318.5,159.5 Z" stroke="#000" stroke-width="1" fill="none" />
<line x1="445.50" y1="79.50" x2="445.50" y2="101.50" stroke="#000" stroke-width="1" />
<line x1="457.50" y1="67.50" x2="457.50" y2="101.50" stroke="#000" stroke-width="1" />
<line x1="445.50" y1="159.50" x2="445.50" y2="136.50" stroke="#000" stroke-width="1" />
<line x1="457.50" y1="136.50" x2="457.50" y2="171.50" stroke="#000" stroke-width="1" />
<line x1="333.50" y1="79.50" x2="333.50" y2="104.50" stroke="#000" stroke-width="1" />
<line x1="333.50" y1="133.50" x2="333.50" y2="159.50" stroke="#000" stroke-width="1" />
<path d="M333.5,84.5 C333.5,88 337,90.5 341.5,90.5 L439.5,90.5 C443,89.5 445,88 445.5,85.2" stroke="#000" stroke-width="1" fill="none" />
<path d="M336.3,89.3 C338,91.5 340,92.5 342,92.5 L439.5,92.5 L439.5,90.5" stroke="#000" stroke-width="1" fill="none" />
<path d="M333.5,154.5 C333.5,151 337,146.5 341.5,146.5 L439.5,146.5 C443,147.5 445,150 445.5,153.8" stroke="#000" stroke-width="1" fill="none" />
<path d="M336.3,149.7 C338,149 340,148.5 342,148.5 L439.5,148.5 L439.5,146.5" stroke="#000" stroke-width="1" fill="none" />
<path d="M457.50,167.50 L541.50,167.50 L541.50,171.50 L457.50,171.50 Z" stroke="#000" stroke-width="1" fill="none" />
<line x1="523.50" y1="167.50" x2="523.50" y2="171.50" stroke="#000" stroke-width="1" />
<line x1="535.50" y1="167.50" x2="535.50" y2="171.50" stroke="#000" stroke-width="1" />
<line x1="529.50" y1="159.90" x2="529.50" y2="171.90" stroke="#ff0000" stroke-width="1" />
<line x1="529.50" y1="173.30" x2="529.50" y2="178.60" stroke="#ff0000" stroke-width="1" />
<line x1="458.40" y1="161.90" x2="464.90" y2="167.60" stroke="#000" stroke-width="1" />
<line x1="457.50" y1="163.90" x2="462.50" y2="169.00" stroke="#000" stroke-width="1" />
<line x1="443.00" y1="162.50" x2="457.50" y2="162.50" stroke="#000" stroke-width="1" />
<line x1="288.80" y1="119.50" x2="340.00" y2="119.50" stroke="#ff0000" stroke-width="1" />
<line x1="352.80" y1="119.50" x2="367.80" y2="119.50" stroke="#ff0000" stroke-width="1" />
<line x1="381.40" y1="119.50" x2="452.50" y2="119.50" stroke="#ff0000" stroke-width="1" />
<line x1="467.30" y1="119.50" x2="481.60" y2="119.50" stroke="#ff0000" stroke-width="1" />
<line x1="495.90" y1="119.50" x2="544.90" y2="119.50" stroke="#ff0000" stroke-width="1" />
<path d="M265.50,24.50 L281.50,24.50 L297.50,63.50" stroke="#000" stroke-width="1" fill="none" />
<path d="M265.50,39.50 L280.50,39.50 L298.50,77.50" stroke="#000" stroke-width="1" fill="none" />
<path d="M297.80,64.40 L294.09,58.34 L296.32,57.45 Z" fill="#000" stroke="#000" stroke-width="0.3"/>
<path d="M298.80,77.80 L294.67,72.02 L296.83,70.98 Z" fill="#000" stroke="#000" stroke-width="0.3"/>
<text x="234.00" y="28.50" font-family="'Liberation Sans', sans-serif" font-size="10" font-weight="normal" fill="#000" text-anchor="start" textLength="23.80" lengthAdjust="spacingAndGlyphs">C0.2</text>
<text x="234.60" y="43.70" font-family="'Liberation Sans', sans-serif" font-size="10" font-weight="normal" fill="#000" text-anchor="start" textLength="23.80" lengthAdjust="spacingAndGlyphs">C0.3</text>
<line x1="296.50" y1="20.00" x2="296.50" y2="66.50" stroke="#000" stroke-width="1" />
<line x1="284.80" y1="29.50" x2="364.10" y2="29.50" stroke="#000" stroke-width="1" />
<path d="M296.50,29.50 L291.00,30.70 L291.00,28.30 Z" fill="#000" stroke="#000" stroke-width="0.3"/>
<path d="M318.50,29.50 L324.00,28.30 L324.00,30.70 Z" fill="#000" stroke="#000" stroke-width="0.3"/>
<text x="336.00" y="21.00" font-family="'Liberation Serif', serif" font-size="14.2" font-weight="normal" fill="#000" text-anchor="start" textLength="18.60" lengthAdjust="spacingAndGlyphs">1.5</text>
<line x1="222.40" y1="63.50" x2="291.80" y2="63.50" stroke="#000" stroke-width="1" />
<line x1="222.40" y1="175.50" x2="291.80" y2="175.50" stroke="#000" stroke-width="1" />
<line x1="230.50" y1="63.50" x2="230.50" y2="175.50" stroke="#000" stroke-width="1" />
<path d="M230.50,63.50 L231.70,69.50 L229.30,69.50 Z" fill="#000" stroke="#000" stroke-width="0.3"/>
<path d="M230.50,175.30 L229.30,169.30 L231.70,169.30 Z" fill="#000" stroke="#000" stroke-width="0.3"/>
<text x="222.70" y="146.00" font-family="'Liberation Sans', sans-serif" font-size="12" font-weight="normal" fill="#000" text-anchor="start" textLength="6.60" lengthAdjust="spacingAndGlyphs" transform="rotate(-90 222.70 146.00)">ø</text>
<text x="222.70" y="138.10" font-family="'Liberation Sans', sans-serif" font-size="12.6" font-weight="normal" fill="#000" text-anchor="start" textLength="6.70" lengthAdjust="spacingAndGlyphs" transform="rotate(-90 222.70 138.10)">8</text>
<line x1="217.50" y1="120.30" x2="217.50" y2="128.90" stroke="#000" stroke-width="1" />
<line x1="214.10" y1="124.50" x2="220.90" y2="124.50" stroke="#000" stroke-width="1" />
<line x1="222.50" y1="120.30" x2="222.50" y2="128.90" stroke="#000" stroke-width="1" />
<text x="222.70" y="118.90" font-family="'Liberation Sans', sans-serif" font-size="12.6" font-weight="normal" fill="#000" text-anchor="start" textLength="25.60" lengthAdjust="spacing" transform="rotate(-90 222.70 118.90)">0.05</text>
<line x1="257.20" y1="80.50" x2="292.20" y2="80.50" stroke="#000" stroke-width="1" />
<line x1="257.20" y1="157.50" x2="292.20" y2="157.50" stroke="#000" stroke-width="1" />
<path d="M266.10,80.50 L266.10,157.90" stroke="#000" stroke-width="1" fill="none" />
<path d="M266.10,80.50 L267.30,86.50 L264.90,86.50 Z" fill="#000" stroke="#000" stroke-width="0.3"/>
<path d="M266.10,157.90 L264.90,151.90 L267.30,151.90 Z" fill="#000" stroke="#000" stroke-width="0.3"/>
<text x="257.60" y="151.20" font-family="'Liberation Sans', sans-serif" font-size="12" font-weight="normal" fill="#000" text-anchor="start" textLength="6.60" lengthAdjust="spacingAndGlyphs" transform="rotate(-90 257.60 151.20)">ø</text>
<text x="257.60" y="143.60" font-family="'Liberation Sans', sans-serif" font-size="12.6" font-weight="normal" fill="#000" text-anchor="start" textLength="14.90" lengthAdjust="spacingAndGlyphs" transform="rotate(-90 257.60 143.60)">5.6</text>
<line x1="252.50" y1="118.40" x2="252.50" y2="127.00" stroke="#000" stroke-width="1" />
<line x1="249.00" y1="122.50" x2="255.80" y2="122.50" stroke="#000" stroke-width="1" />
<line x1="257.50" y1="118.40" x2="257.50" y2="127.00" stroke="#000" stroke-width="1" />
<text x="257.60" y="116.30" font-family="'Liberation Sans', sans-serif" font-size="12.6" font-weight="normal" fill="#000" text-anchor="start" textLength="29.00" lengthAdjust="spacing" transform="rotate(-90 257.60 116.30)">0.05</text>
<line x1="296.50" y1="181.20" x2="296.50" y2="227.50" stroke="#000" stroke-width="1" />
<line x1="396.50" y1="184.20" x2="396.50" y2="227.50" stroke="#000" stroke-width="1" />
<line x1="410.50" y1="184.20" x2="410.50" y2="227.50" stroke="#000" stroke-width="1" />
<line x1="460.50" y1="184.20" x2="460.50" y2="227.50" stroke="#000" stroke-width="1" />
<line x1="504.50" y1="184.20" x2="504.50" y2="227.50" stroke="#000" stroke-width="1" />
<line x1="296.30" y1="218.50" x2="442.80" y2="218.50" stroke="#000" stroke-width="1" />
<path d="M296.30,218.60 L303.30,217.40 L303.30,219.80 Z" fill="#000" stroke="#000" stroke-width="0.3"/>
<path d="M396.50,218.60 L389.50,219.80 L389.50,217.40 Z" fill="#000" stroke="#000" stroke-width="0.3"/>
<path d="M410.50,218.60 L417.50,217.40 L417.50,219.80 Z" fill="#000" stroke="#000" stroke-width="0.3"/>
<line x1="460.50" y1="218.50" x2="572.70" y2="218.50" stroke="#000" stroke-width="1" />
<path d="M460.50,218.60 L467.50,217.40 L467.50,219.80 Z" fill="#000" stroke="#000" stroke-width="0.3"/>
<path d="M504.40,218.60 L497.40,219.80 L497.40,217.40 Z" fill="#000" stroke="#000" stroke-width="0.3"/>
<text x="323.70" y="210.80" font-family="'Liberation Serif', serif" font-size="14.2" font-weight="normal" fill="#000" text-anchor="start" textLength="16.30" lengthAdjust="spacingAndGlyphs">7.1</text>
<line x1="343.00" y1="205.50" x2="351.00" y2="205.50" stroke="#000" stroke-width="1.0" />
<line x1="347.50" y1="201.50" x2="347.50" y2="208.50" stroke="#000" stroke-width="1.0" />
<line x1="343.00" y1="209.50" x2="351.00" y2="209.50" stroke="#000" stroke-width="1.0" />
<text x="353.20" y="210.80" font-family="'Liberation Serif', serif" font-size="14.2" font-weight="normal" fill="#000" text-anchor="start" textLength="17.00" lengthAdjust="spacingAndGlyphs">0.1</text>
<text x="428.60" y="210.80" font-family="'Liberation Serif', serif" font-size="14.2" font-weight="normal" fill="#000" text-anchor="start">1</text>
<text x="518.60" y="210.80" font-family="'Liberation Serif', serif" font-size="14.2" font-weight="normal" fill="#000" text-anchor="start" textLength="16.70" lengthAdjust="spacingAndGlyphs">3.1</text>
<line x1="537.80" y1="205.50" x2="545.80" y2="205.50" stroke="#000" stroke-width="1.0" />
<line x1="541.50" y1="201.50" x2="541.50" y2="208.50" stroke="#000" stroke-width="1.0" />
<line x1="537.80" y1="209.50" x2="545.80" y2="209.50" stroke="#000" stroke-width="1.0" />
<text x="547.70" y="210.80" font-family="'Liberation Serif', serif" font-size="14.2" font-weight="normal" fill="#000" text-anchor="start" textLength="16.70" lengthAdjust="spacingAndGlyphs">0.1</text>
<circle cx="421.20" cy="19.70" r="11.40" stroke="#00ffff" stroke-width="1" fill="none"/>
<line x1="419.00" y1="31.10" x2="412.10" y2="68.30" stroke="#00ffff" stroke-width="1" />
<circle cx="412.10" cy="68.30" r="2.40" stroke="#00ffff" stroke-width="0.5" fill="#00ffff"/>
<path transform="translate(421.20 19.70)" d="M3,5.5 L3,-5.9 L-3.5,2.4 L4.9,2.4" stroke="#ff00ff" stroke-width="1" fill="none" stroke-linejoin="round"/>
<circle cx="458.00" cy="19.10" r="11.40" stroke="#00ffff" stroke-width="1" fill="none"/>
<line x1="457.00" y1="30.50" x2="451.50" y2="80.30" stroke="#00ffff" stroke-width="1" />
<circle cx="451.50" cy="80.30" r="2.40" stroke="#00ffff" stroke-width="0.5" fill="#00ffff"/>
<path transform="translate(458.00 19.10)" d="M-4.3,-5 L4.5,-5 L-0.4,-0.8 C2,-1.2 4.6,0 4.6,2.3 C4.6,4.5 2.5,5.8 0,5.8 C-2,5.8 -3.6,5 -4.3,3.8" stroke="#ff00ff" stroke-width="1" fill="none" stroke-linejoin="round"/>
<circle cx="503.90" cy="22.00" r="11.40" stroke="#00ffff" stroke-width="1" fill="none"/>
<line x1="502.30" y1="33.40" x2="494.00" y2="82.30" stroke="#00ffff" stroke-width="1" />
<circle cx="494.00" cy="82.30" r="2.40" stroke="#00ffff" stroke-width="0.5" fill="#00ffff"/>
<path transform="translate(503.90 22.00)" d="M-3.9,-3.2 C-3.9,-5 -2,-5.8 0.2,-5.8 C2.6,-5.8 4.3,-4.6 4.3,-3 C4.3,-1 2,0.2 -1,2 C-3,3.2 -3.9,4.2 -3.9,5.5 L4.9,5.5" stroke="#ff00ff" stroke-width="1" fill="none" stroke-linejoin="round"/>
<circle cx="538.30" cy="20.30" r="11.40" stroke="#00ffff" stroke-width="1" fill="none"/>
<line x1="536.20" y1="31.50" x2="509.00" y2="105.90" stroke="#00ffff" stroke-width="1" />
<circle cx="509.00" cy="105.90" r="2.40" stroke="#00ffff" stroke-width="0.5" fill="#00ffff"/>
<path transform="translate(538.30 20.30)" d="M-2.4,-2.2 L0.4,-4.9 L0.4,5.9 M-2,5.9 L3,5.9" stroke="#ff00ff" stroke-width="1" fill="none" stroke-linejoin="round"/>
<line x1="296.50" y1="261.50" x2="296.50" y2="368.50" stroke="#999" stroke-width="1" />
<line x1="296.70" y1="261.50" x2="299.10" y2="258.80" stroke="#000" stroke-width="1" />
<line x1="296.70" y1="368.50" x2="299.10" y2="371.10" stroke="#000" stroke-width="1" />
<path d="M299.50,258.50 L396.50,258.50 L396.50,261.50 L410.50,261.50 L410.50,258.50 L504.50,258.50 L504.50,371.50 L410.50,371.50 L410.50,368.50 L396.50,368.50 L396.50,371.50 L299.50,371.50 Z" stroke="#000" stroke-width="1" fill="none" />
<line x1="396.50" y1="261.10" x2="396.50" y2="368.20" stroke="#000" stroke-width="1" />
<line x1="410.50" y1="261.10" x2="410.50" y2="368.20" stroke="#000" stroke-width="1" />
<line x1="504.40" y1="297.50" x2="537.70" y2="297.50" stroke="#000" stroke-width="1" />
<path d="M504.5,299.5 L538.6,299.5 Q541.5,299.5 541.5,302.4 L541.5,327.6 Q541.5,330.5 538.6,330.5 L504.5,330.5" stroke="#000" stroke-width="1" fill="none" />
<line x1="504.40" y1="332.50" x2="537.70" y2="332.50" stroke="#000" stroke-width="1" />
<line x1="537.70" y1="297.50" x2="539.80" y2="299.70" stroke="#000" stroke-width="1" />
<line x1="537.70" y1="332.50" x2="539.80" y2="330.30" stroke="#000" stroke-width="1" />
<circle cx="529.30" cy="315.00" r="5.70" stroke="#000" stroke-width="1" fill="none"/>
<line x1="529.50" y1="308.10" x2="529.50" y2="313.70" stroke="#ff0000" stroke-width="1" />
<line x1="529.50" y1="315.80" x2="529.50" y2="321.50" stroke="#ff0000" stroke-width="1" />
<line x1="289.30" y1="315.50" x2="342.00" y2="315.50" stroke="#ff0000" stroke-width="1" />
<line x1="354.80" y1="315.50" x2="370.00" y2="315.50" stroke="#ff0000" stroke-width="1" />
<line x1="383.30" y1="315.50" x2="455.60" y2="315.50" stroke="#ff0000" stroke-width="1" />
<line x1="469.00" y1="315.50" x2="483.50" y2="315.50" stroke="#ff0000" stroke-width="1" />
<line x1="497.30" y1="315.50" x2="548.70" y2="315.50" stroke="#ff0000" stroke-width="1" />
<line x1="410.30" y1="243.50" x2="421.40" y2="243.50" stroke="#666" stroke-width="1" />
<line x1="410.30" y1="243.00" x2="403.40" y2="261.00" stroke="#000" stroke-width="1" />
<path d="M403.40,261.00 L404.61,254.50 L406.85,255.36 Z" fill="#000" stroke="#000" stroke-width="0.3"/>
<text x="430.00" y="246.80" font-family="'Liberation Sans', sans-serif" font-size="10" font-weight="normal" fill="#000" text-anchor="start" textLength="22.00" lengthAdjust="spacingAndGlyphs">ø7.6</text>
<line x1="296.50" y1="377.10" x2="296.50" y2="459.60" stroke="#000" stroke-width="1" />
<line x1="504.50" y1="379.10" x2="504.50" y2="420.40" stroke="#000" stroke-width="1" />
<line x1="537.50" y1="341.30" x2="537.50" y2="420.40" stroke="#000" stroke-width="1" />
<line x1="541.50" y1="336.10" x2="541.50" y2="459.20" stroke="#000" stroke-width="1" />
<line x1="296.30" y1="411.50" x2="504.50" y2="411.50" stroke="#000" stroke-width="1" />
<path d="M296.30,411.50 L303.30,410.30 L303.30,412.70 Z" fill="#000" stroke="#000" stroke-width="0.3"/>
<path d="M504.50,411.50 L497.50,412.70 L497.50,410.30 Z" fill="#000" stroke="#000" stroke-width="0.3"/>
<line x1="526.30" y1="411.50" x2="537.30" y2="411.50" stroke="#000" stroke-width="1" />
<path d="M537.30,411.50 L530.30,412.70 L530.30,410.30 Z" fill="#000" stroke="#000" stroke-width="0.3"/>
<line x1="541.50" y1="411.50" x2="589.00" y2="411.50" stroke="#000" stroke-width="1" />
<path d="M541.50,411.50 L548.50,410.30 L548.50,412.70 Z" fill="#000" stroke="#000" stroke-width="0.3"/>
<line x1="296.30" y1="450.50" x2="541.50" y2="450.50" stroke="#000" stroke-width="1" />
<path d="M296.30,450.60 L303.30,449.40 L303.30,451.80 Z" fill="#000" stroke="#000" stroke-width="0.3"/>
<path d="M541.50,450.60 L534.50,451.80 L534.50,449.40 Z" fill="#000" stroke="#000" stroke-width="0.3"/>
<text x="372.30" y="403.40" font-family="'Liberation Serif', serif" font-size="13.3" font-weight="normal" fill="#000" text-anchor="start" textLength="56.80" lengthAdjust="spacingAndGlyphs">14.8±0.2</text>
<text x="390.60" y="442.80" font-family="'Liberation Serif', serif" font-size="13.3" font-weight="normal" fill="#000" text-anchor="start" textLength="57.10" lengthAdjust="spacingAndGlyphs">17.5±0.5</text>
<text x="561.30" y="403.20" font-family="'Liberation Sans', sans-serif" font-size="12.8" font-weight="normal" fill="#000" text-anchor="start" textLength="18.90" lengthAdjust="spacingAndGlyphs">0.3</text>
</svg>
</body></html>
